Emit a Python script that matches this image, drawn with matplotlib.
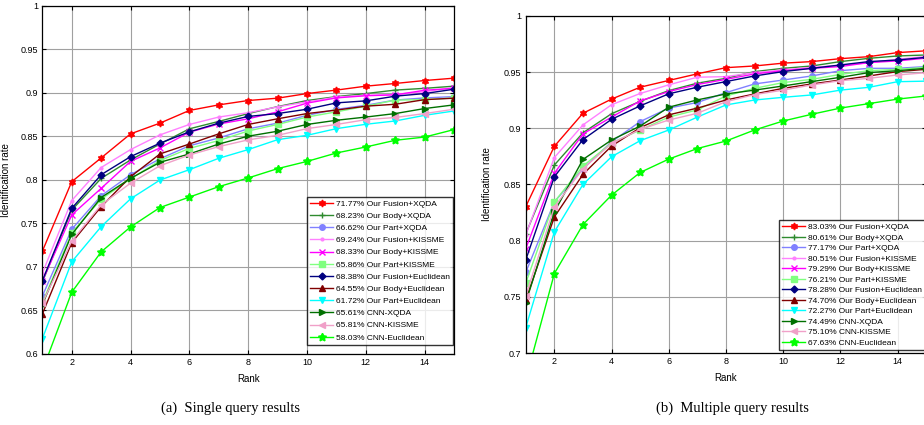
import matplotlib
matplotlib.use("Agg")
import matplotlib.pyplot as plt
from matplotlib.ticker import FormatStrFormatter

plt.rcParams['font.family'] = ['Liberation Sans', 'DejaVu Sans']

ranks = list(range(1, 16))

labels_single = ['71.77% Our Fusion+XQDA', '68.23% Our Body+XQDA', '66.62% Our Part+XQDA',
                 '69.24% Our Fusion+KISSME', '68.33% Our Body+KISSME', '65.86% Our Part+KISSME',
                 '68.38% Our Fusion+Euclidean', '64.55% Our Body+Euclidean', '61.72% Our Part+Euclidean',
                 '65.61% CNN-XQDA', '65.81% CNN-KISSME', '58.03% CNN-Euclidean']
labels_multi = ['83.03% Our Fusion+XQDA', '80.61% Our Body+XQDA', '77.17% Our Part+XQDA',
                '80.51% Our Fusion+KISSME', '79.29% Our Body+KISSME', '76.21% Our Part+KISSME',
                '78.28% Our Fusion+Euclidean', '74.70% Our Body+Euclidean', '72.27% Our Part+Euclidean',
                '74.49% CNN-XQDA', '75.10% CNN-KISSME', '67.63% CNN-Euclidean']

# single query CMC values, rank 1..15
fusion_xqda_s = [0.7177, 0.7977, 0.825, 0.8527, 0.865, 0.8796, 0.886, 0.891, 0.8937, 0.899, 0.903, 0.9075, 0.9106, 0.914, 0.9167]
body_xqda_s = [0.6823, 0.765, 0.8015, 0.8227, 0.841, 0.8585, 0.867, 0.876, 0.884, 0.891, 0.8955, 0.899, 0.903, 0.905, 0.9075]
part_xqda_s = [0.6662, 0.743, 0.7815, 0.8057, 0.824, 0.839, 0.848, 0.8585, 0.865, 0.874, 0.8808, 0.8856, 0.8915, 0.894, 0.8955]
fusion_kiss_s = [0.6924, 0.776, 0.814, 0.8346, 0.8515, 0.8635, 0.872, 0.877, 0.8837, 0.8894, 0.895, 0.897, 0.898, 0.901, 0.906]
body_kiss_s = [0.6833, 0.7595, 0.79, 0.821, 0.8365, 0.8546, 0.864, 0.87, 0.878, 0.888, 0.894, 0.8965, 0.8975, 0.9028, 0.905]
part_kiss_s = [0.6586, 0.739, 0.7776, 0.801, 0.822, 0.836, 0.845, 0.856, 0.8635, 0.872, 0.878, 0.8845, 0.8915, 0.892, 0.894]
fusion_euc_s = [0.6838, 0.767, 0.8057, 0.8265, 0.842, 0.855, 0.865, 0.8727, 0.876, 0.881, 0.8883, 0.8906, 0.896, 0.899, 0.904]
body_euc_s = [0.6455, 0.7276, 0.769, 0.8034, 0.8296, 0.841, 0.8527, 0.8635, 0.87, 0.876, 0.88, 0.8845, 0.8867, 0.892, 0.8937]
part_euc_s = [0.6172, 0.7056, 0.746, 0.778, 0.7996, 0.8115, 0.8246, 0.8346, 0.846, 0.851, 0.8587, 0.8637, 0.8675, 0.874, 0.879]
cnn_xqda_s = [0.6561, 0.737, 0.7795, 0.8015, 0.82, 0.8296, 0.841, 0.85, 0.8557, 0.8635, 0.8683, 0.872, 0.876, 0.8818, 0.886]
cnn_kiss_s = [0.6581, 0.7295, 0.771, 0.796, 0.816, 0.8284, 0.838, 0.8458, 0.851, 0.8587, 0.8635, 0.869, 0.8715, 0.876, 0.881]
cnn_euc_s = [0.5803, 0.6706, 0.717, 0.7457, 0.768, 0.78, 0.792, 0.802, 0.8127, 0.821, 0.8307, 0.8376, 0.8453, 0.849, 0.8576]

# multiple query CMC values, rank 1..15
fusion_xqda_m = [0.8303, 0.884, 0.9134, 0.926, 0.9366, 0.9426, 0.9485, 0.954, 0.9555, 0.958, 0.9594, 0.962, 0.9638, 0.9674, 0.969]
body_xqda_m = [0.8061, 0.8673, 0.896, 0.913, 0.924, 0.9336, 0.9402, 0.9445, 0.9505, 0.9534, 0.9555, 0.9594, 0.9623, 0.9644, 0.9653]
part_xqda_m = [0.7717, 0.8345, 0.864, 0.888, 0.906, 0.918, 0.923, 0.9318, 0.9395, 0.943, 0.9466, 0.9513, 0.9534, 0.9534, 0.955]
fusion_kiss_m = [0.8051, 0.874, 0.903, 0.921, 0.931, 0.9387, 0.9455, 0.946, 0.9496, 0.952, 0.9543, 0.956, 0.9585, 0.9614, 0.964]
body_kiss_m = [0.7929, 0.86, 0.895, 0.91, 0.9244, 0.9327, 0.939, 0.9436, 0.9484, 0.9513, 0.9534, 0.955, 0.9585, 0.96, 0.9625]
part_kiss_m = [0.7621, 0.8345, 0.8664, 0.887, 0.8985, 0.91, 0.9164, 0.9288, 0.9356, 0.9407, 0.9436, 0.948, 0.9513, 0.9525, 0.9543]
fusion_euc_m = [0.7828, 0.8568, 0.89, 0.908, 0.92, 0.9307, 0.9366, 0.9416, 0.9466, 0.9505, 0.9534, 0.9564, 0.9594, 0.9608, 0.9632]
body_euc_m = [0.747, 0.8211, 0.859, 0.8842, 0.9006, 0.912, 0.918, 0.9252, 0.9306, 0.9356, 0.9395, 0.943, 0.9466, 0.9505, 0.9525]
part_euc_m = [0.7227, 0.8078, 0.85, 0.8747, 0.889, 0.8985, 0.91, 0.9208, 0.9252, 0.9276, 0.9297, 0.934, 0.9365, 0.9415, 0.942]
cnn_xqda_m = [0.7449, 0.8256, 0.8723, 0.8896, 0.902, 0.9188, 0.9253, 0.9306, 0.934, 0.9377, 0.9416, 0.9454, 0.9496, 0.9513, 0.9534]
cnn_kiss_m = [0.751, 0.83, 0.864, 0.8866, 0.899, 0.9074, 0.9134, 0.9237, 0.93, 0.934, 0.9386, 0.9424, 0.9445, 0.9475, 0.9495]
cnn_euc_m = [0.6763, 0.7707, 0.8143, 0.8405, 0.8607, 0.8726, 0.882, 0.8887, 0.8985, 0.9065, 0.9125, 0.918, 0.922, 0.926, 0.9288]

series_single = [fusion_xqda_s, body_xqda_s, part_xqda_s, fusion_kiss_s, body_kiss_s, part_kiss_s,
                 fusion_euc_s, body_euc_s, part_euc_s, cnn_xqda_s, cnn_kiss_s, cnn_euc_s]
series_multi = [fusion_xqda_m, body_xqda_m, part_xqda_m, fusion_kiss_m, body_kiss_m, part_kiss_m,
                fusion_euc_m, body_euc_m, part_euc_m, cnn_xqda_m, cnn_kiss_m, cnn_euc_m]

colors = ['#ff0000', '#2e8b2e', '#8080ff', '#ff80ff', '#ff00ff', '#80ff80',
          '#000080', '#800000', '#00ffff', '#007000', '#f0a0c8', '#00ff00']
markers = [(6, 1, 0), '+', 'o', '.', 'x', 's', 'D', '^', 'v', '>', '<', (5, 1, 0)]
msizes = [5, 5, 4, 4, 4, 4, 3.5, 5, 5, 5, 5, 6]

fig = plt.figure(figsize=(9.24, 4.25), dpi=100)
ax1 = fig.add_axes([0.0458, 0.1678, 0.4456, 0.8188])
ax2 = fig.add_axes([0.569, 0.1694, 0.4333, 0.793])


def draw(ax, series, labels, ylo, yticks, ylab_x, leg_y, spacing):
    for s, lab, c, m, ms in zip(series, labels, colors, markers, msizes):
        ax.plot(ranks, s, color=c, marker=m, markersize=ms, linewidth=1.0,
                markeredgewidth=1.0, label=lab)
    ax.set_xlim(1, 15)
    ax.set_ylim(ylo, 1)
    ax.set_xticks([2, 4, 6, 8, 10, 12, 14])
    ax.set_yticks(yticks)
    ax.yaxis.set_major_formatter(FormatStrFormatter('%g'))
    ax.grid(True, color='#a0a0a0', linewidth=0.8)
    ax.tick_params(direction='in', length=3, width=0.8, labelsize=6.5,
                   top=True, right=True, pad=3)
    for sp in ax.spines.values():
        sp.set_linewidth(0.9)
        sp.set_color('black')
    ax.set_xlabel('Rank', fontsize=7, labelpad=5)
    ax.set_ylabel('Identification rate', fontsize=7)
    ax.yaxis.set_label_coords(ylab_x, 0.5)
    leg = ax.legend(loc='lower right', bbox_to_anchor=(0.998, leg_y), borderaxespad=0,
                    fontsize=6, frameon=True, fancybox=False, edgecolor='black',
                    handlelength=2.8, handletextpad=0.3, labelspacing=spacing,
                    borderpad=0.4)
    leg.get_frame().set_linewidth(1.0)


draw(ax1, series_single, labels_single, 0.6, [0.6, 0.65, 0.7, 0.75, 0.8, 0.85, 0.9, 0.95, 1.0],
     -0.075, 0.025, 0.52)
draw(ax2, series_multi, labels_multi, 0.7, [0.7, 0.75, 0.8, 0.85, 0.9, 0.95, 1.0],
     -0.085, 0.009, 0.32)

fig.text(0.249, 0.04, '(a)  Single query results', ha='center', va='center',
         fontsize=10.5, family='Liberation Serif')
fig.text(0.793, 0.04, '(b)  Multiple query results', ha='center', va='center',
         fontsize=10.5, family='Liberation Serif')

fig.savefig('out.png', dpi=100)
